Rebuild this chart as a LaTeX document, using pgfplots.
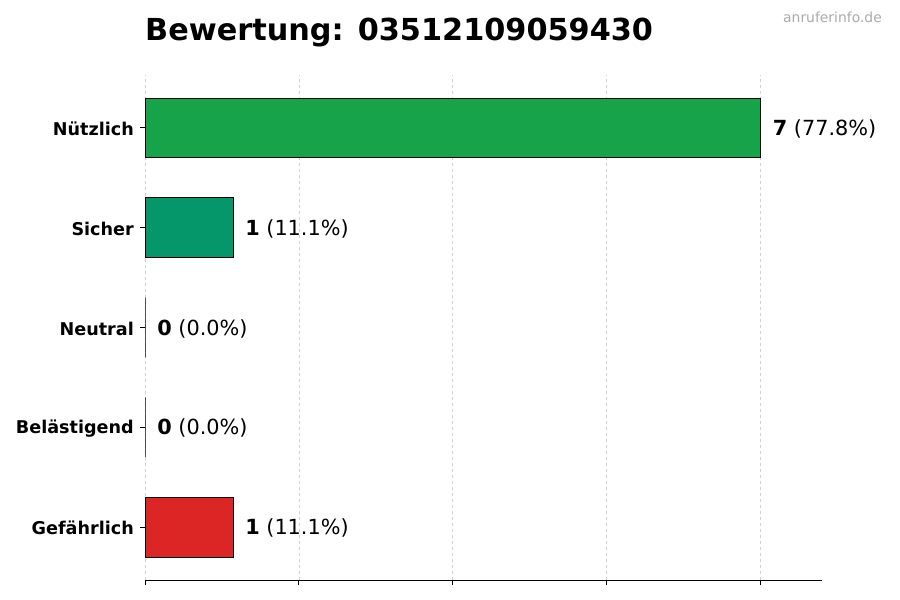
\documentclass[border=0pt]{standalone}
\usepackage{fontspec}
\setmainfont{DejaVu Sans}
\usepackage{pgfplots}
\pgfplotsset{compat=1.18}
\definecolor{nuetzlich}{HTML}{16A34A}
\definecolor{sicher}{HTML}{059669}
\definecolor{gefaehrlich}{HTML}{DC2626}
\definecolor{wmgray}{HTML}{AAAAAA}
\begin{document}
\begin{tikzpicture}
\path[use as bounding box] (0,0) rectangle (900pt,600pt);
\begin{axis}[
    at={(145pt,20pt)}, anchor=south west,
    scale only axis, width=677pt, height=505pt,
    xbar, bar width=0.6, bar shift=0pt,
    xmin=0, xmax=7.7, ymin=-0.53, ymax=4.53,
    xtick={0,1.75,3.5,5.25,7}, xticklabels={},
    ytick={0,1,2,3,4},
    yticklabels={Gefährlich, Belästigend, Neutral, Sicher, Nützlich},
    yticklabel style={font=\fontsize{17.6pt}{20pt}\selectfont\bfseries, inner sep=0pt, xshift=-6pt, yshift=-1pt},
    tick align=outside, major tick length=5pt,
    tick style={black, line width=0.8pt},
    axis x line*=bottom, axis y line*=left,
    y axis line style={draw=none},
    x axis line style={-, line width=0.8pt},
    xmajorgrids, grid style={dashed, color=black!18, line width=0.6pt},
    /pgf/number format/assume math mode=true,
    point meta=explicit,
    visualization depends on={x \as \xval},
    nodes near coords={\textbf{\pgfmathprintnumber{\xval}} (\pgfmathprintnumber[fixed,precision=1,fixed zerofill]{\pgfplotspointmeta}\%)},
    nodes near coords style={anchor=west, inner sep=0pt, xshift=12pt, yshift=-1pt, font=\fontsize{20.8pt}{24pt}\selectfont, black},
    every axis plot/.append style={draw=black, line width=0.8pt},
]
\addplot[fill=nuetzlich] coordinates {(7,4) [77.8]};
\addplot[fill=sicher] coordinates {(1,3) [11.1]};
\addplot[fill=black!40] coordinates {(0,2) [0.0]};
\addplot[fill=black!40] coordinates {(0,1) [0.0]};
\addplot[fill=gefaehrlich] coordinates {(1,0) [11.1]};
\end{axis}
\node[anchor=base west, inner sep=0pt, font=\fontsize{30.3pt}{36pt}\selectfont\bfseries] at (145pt,559pt) {Bewertung: 03512109059430};
\node[anchor=base east, inner sep=0pt, font=\fontsize{13.9pt}{16pt}\selectfont, text=wmgray] at (882pt,577pt) {anruferinfo.de};
\end{tikzpicture}
\end{document}
